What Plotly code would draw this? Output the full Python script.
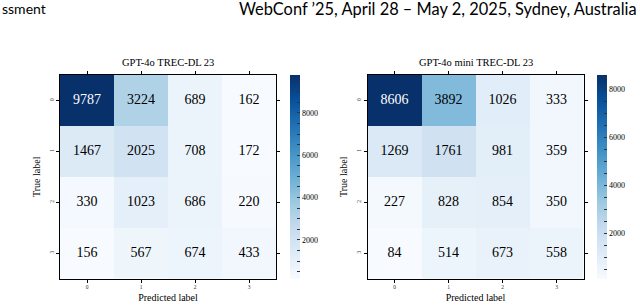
import plotly.graph_objects as go

labels = ["0", "1", "2", "3"]
cm_4o = [
    [9787, 3224, 689, 162],
    [1467, 2025, 708, 172],
    [330, 1023, 686, 220],
    [156, 567, 674, 433],
]
cm_4o_mini = [
    [8606, 3892, 1026, 333],
    [1269, 1761, 981, 359],
    [227, 828, 854, 350],
    [84, 514, 673, 558],
]
titles = ["GPT-4o TREC-DL 23", "GPT-4o mini TREC-DL 23"]
header_left = "ssment"
header_right = "WebConf \u201925, April 28 \u2013 May 2, 2025, Sydney, Australia"

blues = [
    [0.0, "#f7fbff"], [0.125, "#deebf7"], [0.25, "#c6dbef"], [0.375, "#9ecae1"],
    [0.5, "#6baed6"], [0.625, "#4292c6"], [0.75, "#2171b5"], [0.875, "#08519c"],
    [1.0, "#08306b"],
]

W, H = 640, 305
SERIF = "Liberation Serif"

fig = go.Figure()

panels = [
    dict(z=cm_4o, x0=60, x1=276, cb=290),
    dict(z=cm_4o_mini, x0=367.5, x1=583.5, cb=597),
]
top_px, bot_px = 75, 278.5

for k, p in enumerate(panels):
    z = p["z"]
    flat = [v for row in z for v in row]
    zmin, zmax = min(flat), max(flat)
    thr = (zmin + zmax) / 2
    ax = "" if k == 0 else str(k + 1)
    ca = "coloraxis" if k == 0 else "coloraxis2"
    fig.add_trace(go.Heatmap(
        z=z, x=labels, y=labels, coloraxis=ca,
        xaxis="x" + ax, yaxis="y" + ax, hoverinfo="skip",
    ))
    xs, ys, ts, cs = [], [], [], []
    for i, row in enumerate(z):
        for j, v in enumerate(row):
            xs.append(labels[j]); ys.append(labels[i]); ts.append(str(v))
            cs.append("white" if v > thr else "black")
    fig.add_trace(go.Scatter(
        x=xs, y=ys, text=ts, mode="text", textfont=dict(family=SERIF, size=14, color=cs),
        xaxis="x" + ax, yaxis="y" + ax, showlegend=False, hoverinfo="skip",
    ))
    xdom = [p["x0"] / W, p["x1"] / W]
    ydom = [1 - bot_px / H, 1 - top_px / H]
    tickvals = list(range(0, int(zmax) + 1, 500))
    ticktext = [str(v) if v % 2000 == 0 and v > 0 else "" for v in tickvals]
    common = dict(showline=True, linecolor="black", linewidth=1, mirror="ticks",
                  ticks="outside", ticklen=3, tickcolor="black", showgrid=False,
                  zeroline=False, automargin=False,
                  tickfont=dict(family=SERIF, size=5.5, color="#333"))
    fig.update_layout(**{
        "xaxis" + ax: dict(domain=xdom, anchor="y" + ax,
                           title=dict(text="Predicted label", standoff=4,
                                      font=dict(family=SERIF, size=10, color="black")),
                           **common),
        "yaxis" + ax: dict(domain=ydom, anchor="x" + ax, autorange="reversed",
                           tickangle=-90,
                           title=dict(text="True label", standoff=6,
                                      font=dict(family=SERIF, size=10, color="black")),
                           **common),
        ca: dict(colorscale=blues, cmin=zmin, cmax=zmax,
                 colorbar=dict(x=p["cb"] / W, xanchor="left", y=ydom[1], yanchor="top",
                               len=(bot_px - top_px) / H, lenmode="fraction",
                               thickness=10, outlinewidth=0, ticks="inside", ticklen=3,
                               tickcolor="#333", tickvals=tickvals, ticktext=ticktext,
                               xpad=0, ypad=0,
                               tickfont=dict(family=SERIF, size=8, color="#000000"))),
    })
    fig.add_annotation(text=titles[k], x=(p["x0"] + p["x1"]) / 2 / W, y=1 - 63 / H,
                       xref="paper", yref="paper", showarrow=False, xanchor="center",
                       yanchor="middle", font=dict(family=SERIF, size=10.5, color="black"))

fig.add_annotation(text=header_left, x=0, y=1 - 8 / H, xref="paper", yref="paper",
                   showarrow=False, xanchor="left", yanchor="middle",
                   font=dict(family="Lato", size=14, color="black"))
fig.add_annotation(text=header_right, x=639 / W, y=1 - 8 / H, xref="paper", yref="paper",
                   showarrow=False, xanchor="right", yanchor="middle",
                   font=dict(family="Lato", size=16.4, color="black"))

fig.update_layout(width=W, height=H, margin=dict(l=0, r=0, t=0, b=0),
                  paper_bgcolor="white", plot_bgcolor="white", showlegend=False)

fig.write_html("out.html", post_script="document.body.style.margin='0';",
               config={"displayModeBar": False})
